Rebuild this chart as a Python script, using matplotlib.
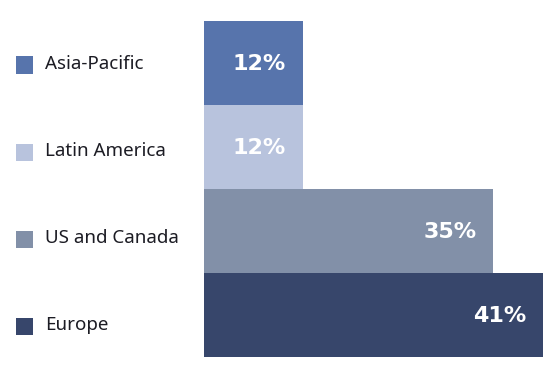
import matplotlib
matplotlib.use("Agg")
from matplotlib import pyplot as plt
from matplotlib.patches import Rectangle

# data, top to bottom as shown
regions = ["Asia-Pacific", "Latin America", "US and Canada", "Europe"]
shares = [12, 12, 35, 41]
colors = ["#5774ac", "#b8c3dd", "#8290a8", "#37466b"]

W, H = 553, 378
fig = plt.figure(figsize=(W / 100, H / 100), dpi=100)
fig.patch.set_facecolor("white")

# bars area in pixels: x 204..543, y 21..357 (from top)
ax = fig.add_axes([204 / W, (H - 357) / H, (543 - 204) / W, (357 - 21) / H])
ax.axis("off")

n = len(regions)
ypos = list(range(n - 1, -1, -1))
ax.barh(ypos, shares, height=1.0, left=0, color=colors, edgecolor="none")
ax.set_xlim(0, max(shares))
ax.set_ylim(-0.5, n - 0.5)

for y, v in zip(ypos, shares):
    ax.annotate("{}%".format(v), xy=(v, y), xytext=(-17, -6.5), textcoords="offset pixels",
                ha="right", va="baseline", color="white", fontsize=16,
                fontweight="bold", family="DejaVu Sans")

# legend on the left, drawn by hand
leg_top = 65
leg_step = 87
for i, (name, c) in enumerate(zip(regions, colors)):
    yc = leg_top + i * leg_step
    fig.patches.append(Rectangle((16 / W, (H - yc - 8.5) / H), 17 / W, 17 / H,
                                 transform=fig.transFigure, facecolor=c, edgecolor="none"))
    fig.text(45 / W, (H - yc - 4) / H, name, ha="left", va="baseline",
             fontsize=13.5, color="#1c1c24", family="Noto Sans")

fig.savefig("out.png", dpi=100)
